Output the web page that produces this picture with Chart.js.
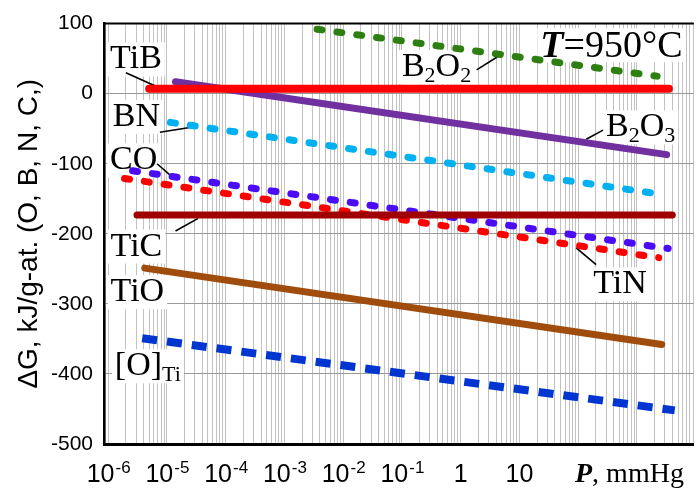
<!DOCTYPE html>
<html>
<head>
<meta charset="utf-8">
<script src="https://cdn.jsdelivr.net/npm/chart.js@4.4.0/dist/chart.umd.min.js"></script>
<style>
html, body { margin: 0; padding: 0; background: #fff; }
#wrap { width: 696px; height: 491px; }
</style>
</head>
<body>
<div id="wrap"><canvas id="chart" width="696" height="491"></canvas></div>
<script>
// x range (P, mmHg) and decade labels (base, exponent)
const xMin = 8.5e-7;
const xMax = 9300;
const decadeValues = [1e-6, 1e-5, 1e-4, 1e-3, 1e-2, 1e-1, 1, 10];
const decadeBase = ['10', '10', '10', '10', '10', '10', '1', '10'];
const decadeExp = ['-6', '-5', '-4', '-3', '-2', '-1', '', ''];

// each line: pressure at the two ends, ΔG at the two ends (kJ/g-at.)
const pTiB = [5e-6, 3500];
const gTiB = [7, 7];
const pB2O3 = [1.4e-5, 3200];
const gB2O3 = [17, -87];
const pB2O2 = [3.6e-3, 2200];
const gB2O2 = [92, 25];
const pBN = [1.15e-5, 2750];
const gBN = [-41, -144];
const pCO = [2.6e-6, 3400];
const gCO = [-110, -221];
const pTiN = [1.9e-6, 2350];
const gTiN = [-121, -234];
const pTiC = [3.1e-6, 4000];
const gTiC = [-173, -173];
const pTiO = [4.2e-6, 2650];
const gTiO = [-249, -358];
const pOTi = [3.8e-6, 4400];
const gOTi = [-349, -452];

function pts(p, g) {
    return p.map((v, i) => ({ x: v, y: g[i] }));
}

// minor + major grid positions of the log axis
const gridValues = [];
for (let n = -7; n <= 3; n++) {
    for (let m = 1; m <= 9; m++) {
        const v = Number(m + 'e' + n);
        if (v >= xMin && v <= xMax) gridValues.push(v);
    }
}

function solid(label, p, g, color, w) {
    return { label, data: pts(p, g), borderColor: color, borderWidth: w,
             borderCapStyle: 'round', pointRadius: 0, tension: 0 };
}
function dotted(label, p, g, color) {
    return { label, data: pts(p, g), borderColor: color, borderWidth: 7,
             borderDash: [5, 15], borderCapStyle: 'round', pointRadius: 0, tension: 0 };
}

const datasets = [
    solid('TiB', pTiB, gTiB, '#ff0000', 8),
    solid('B2O3', pB2O3, gB2O3, '#7030a0', 7),
    dotted('B2O2', pB2O2, gB2O2, '#2e7f12'),
    dotted('BN', pBN, gBN, '#00b0f0'),
    solid('TiC', pTiC, gTiC, '#a00000', 7),
    dotted('TiN', pTiN, gTiN, '#ff0000'),
    dotted('CO', pCO, gCO, '#4a0cf5'),
    solid('TiO', pTiO, gTiO, '#a04c0c', 7),
    { label: '[O]Ti', data: pts(pOTi, gOTi), borderColor: '#0035d0', borderWidth: 8,
      borderDash: [15, 10], borderCapStyle: 'butt', pointRadius: 0, tension: 0 }
];

// curve labels: text parts, anchor (P, ΔG) of the text baseline-left, leader line ends
const serif = '"Liberation Serif", "Times New Roman", serif';
const sans = '"Liberation Sans", Arial, sans-serif';
const labelParts = [
    [['TiB']], [['BN']], [['CO']], [['TiC']], [['TiO']],
    [['[O]'], ['Ti', 'sub']],
    [['B'], ['2', 'sub'], ['O'], ['2', 'sub']],
    [['B'], ['2', 'sub'], ['O'], ['3', 'sub']],
    [['TiN']],
    [['T', 'bi'], ['=950°C', 'big']]
];
const labelP = [1.08e-6, 1.2e-6, 1.08e-6, 1.1e-6, 1.1e-6, 1.3e-6, 0.1, 298, 180, 22.7];
const labelG = [36, -46, -108, -231, -296, -402, 25, -61, -285, 52];
const leaders = [
    [[2.0e-6, 30], [6.8e-6, 10]],
    [[7.6e-6, -55], [2.6e-5, -48]],
    [[6.8e-6, -100], [1.2e-5, -118]],
    [[1.4e-5, -196], [3.4e-5, -178]],
    null, null,
    [[1.87, 34], [5.35, 58]],
    [[137, -65], [265, -52]],
    [[202, -244], [92.5, -220]],
    null
];

function partFont(kind) {
    if (kind === 'sub') return '22px ' + serif;
    if (kind === 'bi') return 'italic bold 38px ' + serif;
    if (kind === 'big') return '38px ' + serif;
    return '34px ' + serif;
}

const labelPlugin = {
    id: 'curveLabels',
    beforeDatasetsDraw(chart) {
        const ctx = chart.ctx, xs = chart.scales.x, ys = chart.scales.y;
        ctx.save();
        labelParts.forEach((parts, i) => {
            const x0 = xs.getPixelForValue(labelP[i]);
            const y0 = ys.getPixelForValue(labelG[i]);
            let w = 0;
            parts.forEach(p => { ctx.font = partFont(p[1]); w += ctx.measureText(p[0]).width; });
            const big = parts.some(p => p[1] === 'big');
            ctx.fillStyle = '#fff';
            ctx.fillRect(x0 - 3, y0 - (big ? 29 : 26), w + 6, 34);
            let x = x0;
            ctx.fillStyle = '#000';
            ctx.textBaseline = 'alphabetic';
            parts.forEach(p => {
                ctx.font = partFont(p[1]);
                ctx.fillText(p[0], x, p[1] === 'sub' ? y0 + 6 : y0);
                x += ctx.measureText(p[0]).width;
            });
            const ld = leaders[i];
            if (ld) {
                ctx.strokeStyle = '#000';
                ctx.lineWidth = 1.6;
                ctx.beginPath();
                ctx.moveTo(xs.getPixelForValue(ld[0][0]), ys.getPixelForValue(ld[0][1]));
                ctx.lineTo(xs.getPixelForValue(ld[1][0]), ys.getPixelForValue(ld[1][1]));
                ctx.stroke();
            }
        });
        ctx.restore();
    },
    afterDraw(chart) {
        const ctx = chart.ctx, a = chart.chartArea, xs = chart.scales.x;
        ctx.save();
        ctx.strokeStyle = '#000';
        ctx.lineWidth = 2;
        ctx.beginPath();
        ctx.moveTo(a.left - 1, a.top);
        ctx.lineTo(a.right, a.top);
        ctx.stroke();
        ctx.fillStyle = '#000';
        ctx.textBaseline = 'alphabetic';
        // decade tick labels with superscript exponents
        const base = a.bottom + 38;
        decadeValues.forEach((v, i) => {
            ctx.font = '25px ' + sans;
            const wb = ctx.measureText(decadeBase[i]).width;
            ctx.font = '17px ' + sans;
            const we = ctx.measureText(decadeExp[i]).width;
            const x = xs.getPixelForValue(v) - (wb + we) / 2;
            ctx.font = '25px ' + sans;
            ctx.fillText(decadeBase[i], x, base);
            ctx.font = '17px ' + sans;
            ctx.fillText(decadeExp[i], x + wb + 1, base - 9);
        });
        // x axis title: P, mmHg
        ctx.font = 'italic bold 28px ' + serif;
        const px = 575;
        ctx.fillText('P', px, base);
        const pw = ctx.measureText('P').width;
        ctx.font = '28px ' + serif;
        ctx.fillText(', mmHg', px + pw, base);
        ctx.restore();
    }
};

new Chart(document.getElementById('chart').getContext('2d'), {
    type: 'line',
    data: { datasets },
    options: {
        responsive: false,
        animation: false,
        layout: { padding: { top: 19, left: 0, right: 0, bottom: 0 } },
        plugins: { legend: { display: false }, tooltip: { enabled: false } },
        scales: {
            x: {
                type: 'logarithmic',
                min: xMin,
                max: xMax,
                afterBuildTicks: s => { s.ticks = gridValues.map(v => ({ value: v })); },
                afterFit: s => { s.height = 47; },
                grid: { color: '#c2c2c2', lineWidth: 1, drawTicks: false },
                border: { color: '#000', width: 3 },
                ticks: { autoSkip: false, maxRotation: 0, callback: () => '' }
            },
            y: {
                min: -500,
                max: 100,
                afterFit: s => { s.width = 104; },
                grid: { color: '#999', lineWidth: 1, drawTicks: false },
                border: { color: '#000', width: 2.5 },
                ticks: { stepSize: 100, padding: 11, color: '#000', font: { family: sans, size: 21 } },
                title: {
                    display: true, text: 'ΔG, kJ/g-at. (O, B, N, C,)', color: '#000',
                    font: { family: sans, size: 28 }, padding: { top: 12, bottom: 0 }
                }
            }
        }
    },
    plugins: [labelPlugin]
});
</script>
</body>
</html>
